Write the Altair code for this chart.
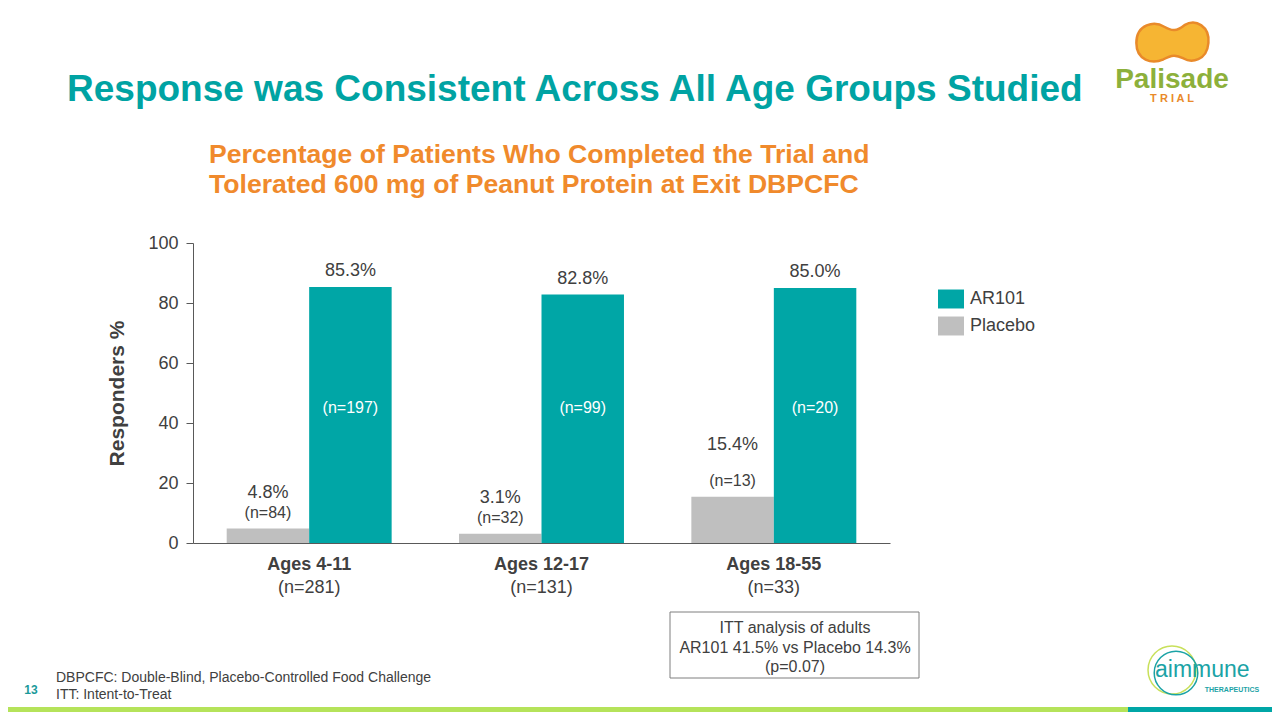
import altair as alt
import pandas as pd

FONT = "Liberation Sans"
TEAL = "#00A6A6"
GRAY = "#BFBFBF"
TITLE_TEAL = "#00A3A3"
ORANGE = "#F08A2C"
TXT = "#404040"

# ---- data ----
groups = ["Ages 4-11", "Ages 12-17", "Ages 18-55"]
group_n = ["(n=281)", "(n=131)", "(n=33)"]
treatments = ["Placebo", "AR101"]
placebo_pct = [4.8, 3.1, 15.4]
ar101_pct = [85.3, 82.8, 85.0]
placebo_n = ["(n=84)", "(n=32)", "(n=13)"]
ar101_n = ["(n=197)", "(n=99)", "(n=20)"]
y_ticks = [0, 20, 40, 60, 80, 100]

rows = []
for g, p, pn, a, an in zip(groups, placebo_pct, placebo_n, ar101_pct, ar101_n):
    rows.append({"group": g, "treatment": "Placebo", "pct": p, "label": f"{p:.1f}%", "n": pn})
    rows.append({"group": g, "treatment": "AR101", "pct": a, "label": f"{a:.1f}%", "n": an})
df = pd.DataFrame(rows)
gdf = pd.DataFrame({"group": groups, "gn": group_n})

# page -> view coordinates (plot origin at page 193,243)
OX, OY = 193, 243
def px(x):
    return x - OX
def py(y):
    return y - OY

one = pd.DataFrame({"k": [0]})

def txt(text, x, y, size, color=TXT, weight="normal", align="left", baseline="middle", font=FONT):
    return alt.Chart(one).mark_text(
        text=text, font=font, fontSize=size, color=color, fontWeight=weight,
        align=align, baseline=baseline,
    ).encode(x=alt.value(px(x)), y=alt.value(py(y)))

def box(x1, x2, y1, y2, fill, stroke=None, sw=0):
    kw = dict(fill=fill)
    if stroke:
        kw.update(stroke=stroke, strokeWidth=sw)
    return alt.Chart(one).mark_rect(**kw).encode(
        x=alt.value(px(x1)), x2=alt.value(px(x2)), y=alt.value(py(y1)), y2=alt.value(py(y2)))

x_enc = alt.X(
    "group:N", sort=groups,
    scale=alt.Scale(paddingInner=0.29, paddingOuter=0.145),
    axis=alt.Axis(title=None, labelFontWeight="bold", labelFontSize=18, labelColor=TXT,
                  labelFont=FONT, labelAngle=0, ticks=False, tickSize=0, labelPadding=12,
                  domainColor="#595959", domainWidth=1),
)
xo_enc = alt.XOffset("treatment:N", sort=treatments, scale=alt.Scale(paddingInner=0, paddingOuter=0))
y_enc = alt.Y(
    "pct:Q", scale=alt.Scale(domain=[0, 100], nice=False),
    axis=alt.Axis(values=y_ticks, grid=False, title="Responders %", titleFont=FONT,
                  titleFontSize=21, titleFontWeight="bold", titleColor=TXT, titlePadding=20,
                  labelFont=FONT, labelFontSize=18, labelColor=TXT, labelPadding=8,
                  tickSize=7, tickColor="#595959", domainColor="#595959"),
)
color_enc = alt.Color(
    "treatment:N",
    scale=alt.Scale(domain=["AR101", "Placebo"], range=[TEAL, GRAY]),
    legend=alt.Legend(title=None, orient="none", legendX=px(938), legendY=py(286),
                      symbolType="M-1,-0.73H1V0.73H-1Z", symbolSize=676, symbolStrokeWidth=0,
                      labelFont=FONT, labelFontSize=18, labelColor=TXT, labelOffset=6,
                      rowPadding=4, padding=0),
)

base = alt.Chart(df)
bars = base.mark_bar().encode(x=x_enc, xOffset=xo_enc, y=y_enc, color=color_enc)

lab_ar = base.transform_filter(alt.datum.treatment == "AR101").mark_text(
    font=FONT, fontSize=18, color=TXT, dy=-16).encode(x=x_enc, xOffset=xo_enc, y=y_enc, text="label:N")
lab_pl = base.transform_filter(
    (alt.datum.treatment == "Placebo") & (alt.datum.group != "Ages 18-55")).mark_text(
    font=FONT, fontSize=18, color=TXT, dy=-36).encode(x=x_enc, xOffset=xo_enc, y=y_enc, text="label:N")
lab_pl3 = base.transform_filter(
    (alt.datum.treatment == "Placebo") & (alt.datum.group == "Ages 18-55")).mark_text(
    font=FONT, fontSize=18, color=TXT, dy=-52).encode(x=x_enc, xOffset=xo_enc, y=y_enc, text="label:N")
n_pl = base.transform_filter(alt.datum.treatment == "Placebo").mark_text(
    font=FONT, fontSize=16, color=TXT, dy=-16).encode(x=x_enc, xOffset=xo_enc, y=y_enc, text="n:N")
n_ar = base.transform_filter(alt.datum.treatment == "AR101").mark_text(
    font=FONT, fontSize=16, color="white").encode(x=x_enc, xOffset=xo_enc, y=alt.datum(45), text="n:N")
grp_n = alt.Chart(gdf).mark_text(font=FONT, fontSize=18, color=TXT).encode(
    x=alt.X("group:N", sort=groups), y=alt.value(py(588)), text="gn:N")

layers = [
    bars, lab_ar, lab_pl, lab_pl3, n_pl, n_ar, grp_n,
    txt("Response was Consistent Across All Age Groups Studied", 67, 101, 37,
        color=TITLE_TEAL, weight="bold", baseline="alphabetic"),
    txt("Percentage of Patients Who Completed the Trial and", 209, 163, 26.6,
        color=ORANGE, weight="bold", baseline="alphabetic"),
    txt("Tolerated 600 mg of Peanut Protein at Exit DBPCFC", 209, 193, 26.6,
        color=ORANGE, weight="bold", baseline="alphabetic"),
    # ITT box
    box(670, 919, 612, 678, "white", stroke="#7F7F7F", sw=1),
    txt("ITT analysis of adults", 795, 628, 16, align="center"),
    txt("AR101 41.5% vs Placebo 14.3%", 795, 648, 16, align="center"),
    txt("(p=0.07)", 795, 667, 16, align="center"),
    # footnotes
    txt("DBPCFC: Double-Blind, Placebo-Controlled Food Challenge", 56, 678, 14),
    txt("ITT: Intent-to-Treat", 56, 695, 14),
    txt("13", 31, 690, 12, color="#1A9A9A", weight="bold", align="center"),
    # bottom bars
    box(0, 1128, 707, 720, "#B5E35A"),
    box(1128, 1290, 707, 720, TEAL),
    # Palisade logo
    alt.Chart(one).mark_point(
        shape="M-0.92,0C-0.92,-0.5 -0.45,-0.58 -0.2,-0.42C0,-0.3 0.12,-0.3 0.32,-0.46"
              "C0.62,-0.64 0.98,-0.42 0.94,0C0.9,0.46 0.5,0.52 0.3,0.4"
              "C0.1,0.3 0,0.3 -0.22,0.42C-0.52,0.56 -0.92,0.44 -0.92,0Z",
        size=6000, filled=True, fill="#F6B533", stroke="#E98A2A", strokeWidth=2.5, opacity=1,
    ).encode(x=alt.value(px(1172)), y=alt.value(py(43))),
    txt("Palisade", 1172, 88, 28, color="#8DB03B", weight="bold", align="center", baseline="alphabetic"),
    txt("T R I A L", 1172, 99, 11, color="#E98A2A", weight="bold", align="center"),
    # aimmune logo
    alt.Chart(one).mark_point(shape="circle", size=2300, filled=False, stroke="#C8E05A",
                              strokeWidth=1.5, opacity=1).encode(
        x=alt.value(px(1172)), y=alt.value(py(670))),
    alt.Chart(one).mark_point(shape="circle", size=1900, filled=False, stroke="#1BA3A6",
                              strokeWidth=1.5, opacity=1).encode(
        x=alt.value(px(1176)), y=alt.value(py(673))),
    txt("aimmune", 1155, 670, 23, color="#1BA3A6", align="left"),
    txt("THERAPEUTICS", 1232, 690, 7, color="#1BA3A6", weight="bold", align="center"),
]

chart = alt.layer(*layers).properties(
    width=697, height=300,
    autosize=alt.AutoSizeParams(type="none"),
    padding={"left": 185, "top": 235, "right": 1264 - 185 - 697, "bottom": 704 - 235 - 300},
    background="white",
).configure_view(stroke=None).configure_axis(labelFont=FONT, titleFont=FONT)

chart.save("out.html", embed_options={"renderer": "svg", "actions": False})
